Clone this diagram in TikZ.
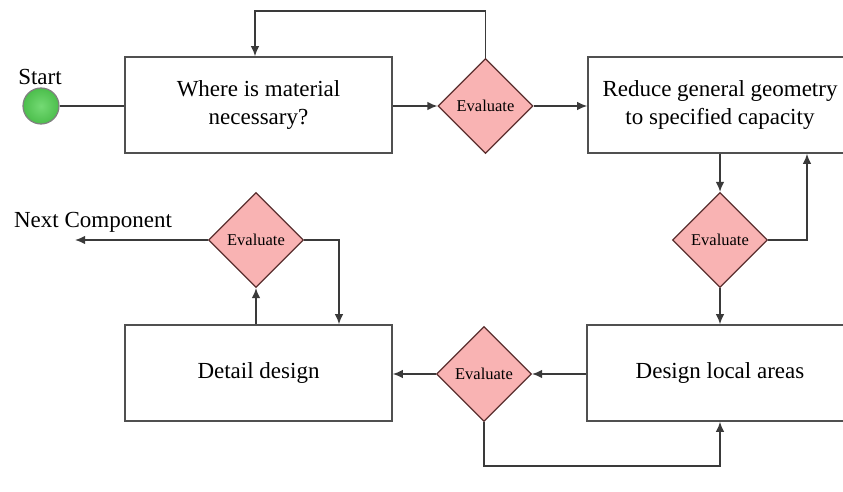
\documentclass[tikz,border=0pt]{standalone}
\usepackage{fontspec}
\setmainfont{Liberation Serif}
\usetikzlibrary{shapes.geometric,arrows.meta}
\definecolor{linegray}{HTML}{3A3A3A}
\definecolor{boxgray}{HTML}{505050}
\definecolor{evalfill}{HTML}{F9B3B3}
\definecolor{evaldraw}{HTML}{5A2E2E}
\definecolor{startin}{HTML}{74DA74}
\definecolor{startout}{HTML}{4CBE4C}
\begin{document}
\begin{tikzpicture}[x=1pt,y=-1pt,
  stepbox/.style={draw=boxgray,line width=1.6pt,fill=white,rectangle,
    minimum height=96pt,align=center,font=\fontsize{23}{28}\selectfont,inner sep=2pt},
  evalbox/.style={draw=evaldraw,line width=1.2pt,fill=evalfill,diamond,
    minimum width=95pt,minimum height=95pt,inner sep=0pt,font=\fontsize{16.5}{19}\selectfont},
  conn/.style={draw=linegray,line width=1.5pt},
  arr/.style={conn,-{Latex[length=10pt,width=8.5pt]}},
  lbl/.style={font=\fontsize{23}{28}\selectfont,inner sep=0pt}]
\useasboundingbox (0,0) rectangle (843,492);

% start marker
\node[circle,minimum size=36pt,inner sep=0pt,draw=gray,line width=1.2pt,
  inner color=startin,outer color=startout] (start) at (41,106) {};
\node[lbl] (startlbl) at (40,77) {Start};

% process steps
\node[stepbox,minimum width=267pt] (b1) at (258.5,105) {Where is material\\necessary?};
\node[stepbox,minimum width=264pt] (b2) at (720,105) {Reduce general geometry\\to specified capacity};
\node[stepbox,minimum width=266pt] (b3) at (720,373) {Design local areas};
\node[stepbox,minimum width=267pt] (b4) at (258.5,373) {Detail design};

% decisions
\node[evalbox] (d1) at (485.5,106) {Evaluate};
\node[evalbox] (d2) at (720,240) {Evaluate};
\node[evalbox] (d3) at (484,374) {Evaluate};
\node[evalbox] (d4) at (256,240) {Evaluate};

\node[lbl] (next) at (93,222) {Next Component};

% routing points
\coordinate (t1) at (255,11);
\coordinate (r2) at (807,240);
\coordinate (u3) at (720,466);
\coordinate (r4) at (339,240);
\coordinate (n4) at (75,240);

% connectors
\draw[conn] (start.east) -- (b1.west |- start.east);
\draw[arr] (b1.east |- d1.west) -- (d1.west);
\draw[arr] (d1.east) -- (b2.west |- d1.east);
\draw[arr] (d1.north) |- (t1) -- (t1 |- b1.north);
\draw[arr] (b2.south) -- (d2.north);
\draw[arr] (d2.east) -- (r2) -- (r2 |- b2.south);
\draw[arr] (d2.south) -- (b3.north);
\draw[arr] (b3.west |- d3.east) -- (d3.east);
\draw[arr] (d3.west) -- (b4.east |- d3.west);
\draw[arr] (d3.south) |- (u3) -- (u3 |- b3.south);
\draw[arr] (d4.south |- b4.north) -- (d4.south);
\draw[arr] (d4.east) -- (r4) -- (r4 |- b4.north);
\draw[arr] (d4.west) -- (n4);
\end{tikzpicture}
\end{document}
